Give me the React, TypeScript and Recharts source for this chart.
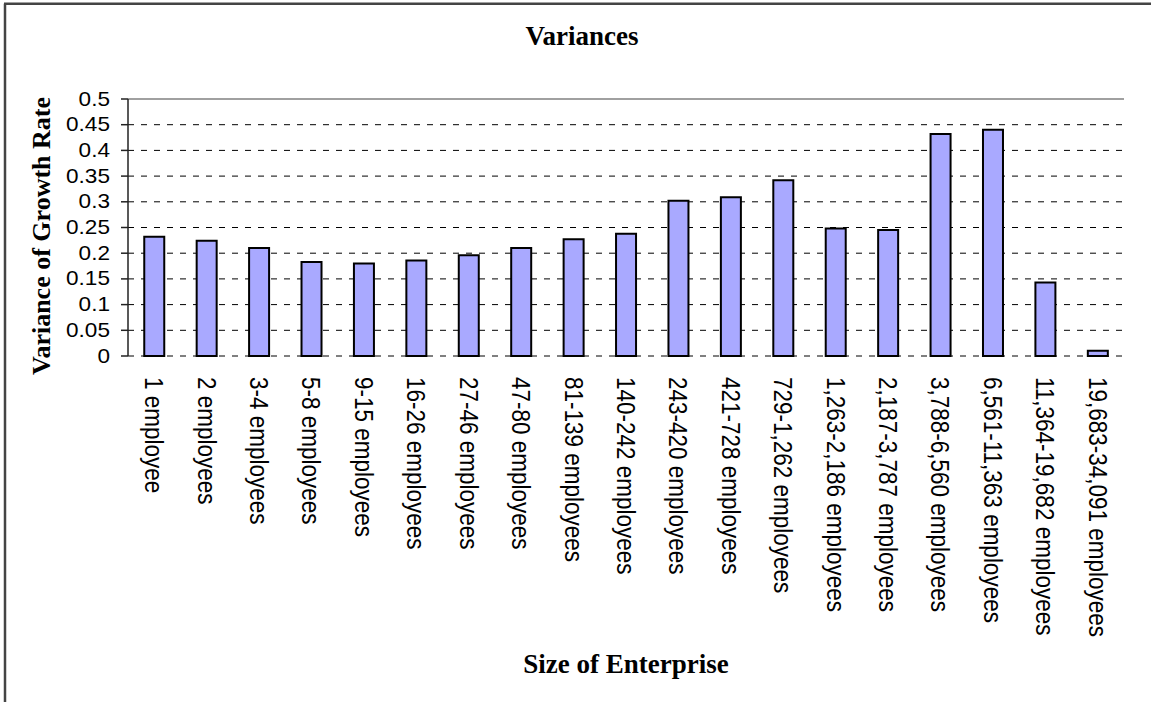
import { BarChart, Bar, XAxis, YAxis, CartesianGrid, ReferenceLine } from "recharts"

const sizeClasses = [
  "1 employee",
  "2 employees",
  "3-4 employees",
  "5-8 employees",
  "9-15 employees",
  "16-26 employees",
  "27-46 employees",
  "47-80 employees",
  "81-139 employees",
  "140-242 employees",
  "243-420 employees",
  "421-728 employees",
  "729-1,262 employees",
  "1,263-2,186 employees",
  "2,187-3,787 employees",
  "3,788-6,560 employees",
  "6,561-11,363 employees",
  "11,364-19,682 employees",
  "19,683-34,091 employees",
]

const variances = [
  0.232, 0.224, 0.21, 0.183, 0.18, 0.186, 0.196, 0.21, 0.227, 0.238,
  0.302, 0.309, 0.342, 0.248, 0.245, 0.432, 0.44, 0.143, 0.01,
]

const yTicks = [0, 0.05, 0.1, 0.15, 0.2, 0.25, 0.3, 0.35, 0.4, 0.45, 0.5]

// category boundaries, where the Excel-style tick marks sit
const edgeTicks = sizeClasses.map((_, i) => i).concat(sizeClasses.length)

const data = sizeClasses.map((name, i) => ({ name, value: variances[i] }))

const SANS = "'Liberation Sans', Arial, sans-serif"
const SERIF = "'Liberation Serif', 'Times New Roman', serif"

// the original picture is a little stretched sideways, so glyphs are widened
const CategoryTick = ({ x, y, payload }: any) => (
  <g transform={`translate(${x}, ${y + 21}) scale(1.15, 1) rotate(90)`}>
    <text x={0} y={0} textAnchor="start" dominantBaseline="central" fontFamily={SANS} fontSize={22.5} fill="#000">
      {payload.value}
    </text>
  </g>
)

const ValueTick = ({ x, y, payload }: any) => (
  <g transform={`translate(${x}, ${y}) scale(1.13, 1)`}>
    <text x={0} y={0} textAnchor="end" dominantBaseline="central" fontFamily={SANS} fontSize={20} fill="#000">
      {String(payload.value)}
    </text>
  </g>
)

export default function App() {
  return (
    <div style={{ position: "relative", width: 1151, height: 702, background: "#fff" }}>
      <style>{"body{margin:0}"}</style>
      <BarChart
        width={1151}
        height={702}
        data={data}
        margin={{ top: 99, right: 27, bottom: 0, left: 0 }}
        barCategoryGap="31%"
      >
        <CartesianGrid vertical={false} stroke="#000" strokeDasharray="6 7" />
        <XAxis
          xAxisId="edge"
          type="number"
          domain={[0, sizeClasses.length]}
          ticks={edgeTicks}
          tick={false}
          height={0}
          tickSize={7}
          stroke="#555"
          axisLine={{ stroke: "#555", strokeWidth: 1.5 }}
          tickLine={{ stroke: "#555", strokeWidth: 1.5 }}
        />
        <XAxis
          xAxisId="cat"
          dataKey="name"
          interval={0}
          height={346}
          axisLine={false}
          tickLine={false}
          tickSize={0}
          tickMargin={0}
          tick={<CategoryTick />}
        />
        <YAxis
          width={128}
          domain={[0, 0.5]}
          ticks={yTicks}
          interval={0}
          tickSize={7}
          tickMargin={11}
          axisLine={{ stroke: "#222", strokeWidth: 1.5 }}
          tickLine={{ stroke: "#222", strokeWidth: 1.5 }}
          tick={<ValueTick />}
        />
        <ReferenceLine y={0.5} xAxisId="cat" stroke="#a0a0a0" strokeWidth={2} />
        <ReferenceLine x={sizeClasses.length} xAxisId="edge" stroke="#a0a0a0" strokeWidth={2} />
        <Bar
          xAxisId="cat"
          dataKey="value"
          fill="#a9a9ff"
          stroke="#000"
          strokeWidth={2}
          isAnimationActive={false}
        />
      </BarChart>
      <svg
        width={1151}
        height={702}
        style={{ position: "absolute", left: 0, top: 0, pointerEvents: "none" }}
      >
        <line x1={5} y1={3.7} x2={5} y2={702} stroke="#444" strokeWidth={2.5} />
        <line x1={4} y1={3.7} x2={1151} y2={3.7} stroke="#444" strokeWidth={2.5} />
        <text x={582} y={45} textAnchor="middle" fontFamily={SERIF} fontWeight="bold" fontSize={27}>
          Variances
        </text>
        <text
          x={50}
          y={236}
          transform="rotate(-90, 50, 236)"
          textAnchor="middle"
          fontFamily={SERIF}
          fontWeight="bold"
          fontSize={26}
        >
          Variance of Growth Rate
        </text>
        <text x={626} y={673} textAnchor="middle" fontFamily={SERIF} fontWeight="bold" fontSize={27}>
          Size of Enterprise
        </text>
      </svg>
    </div>
  )
}
